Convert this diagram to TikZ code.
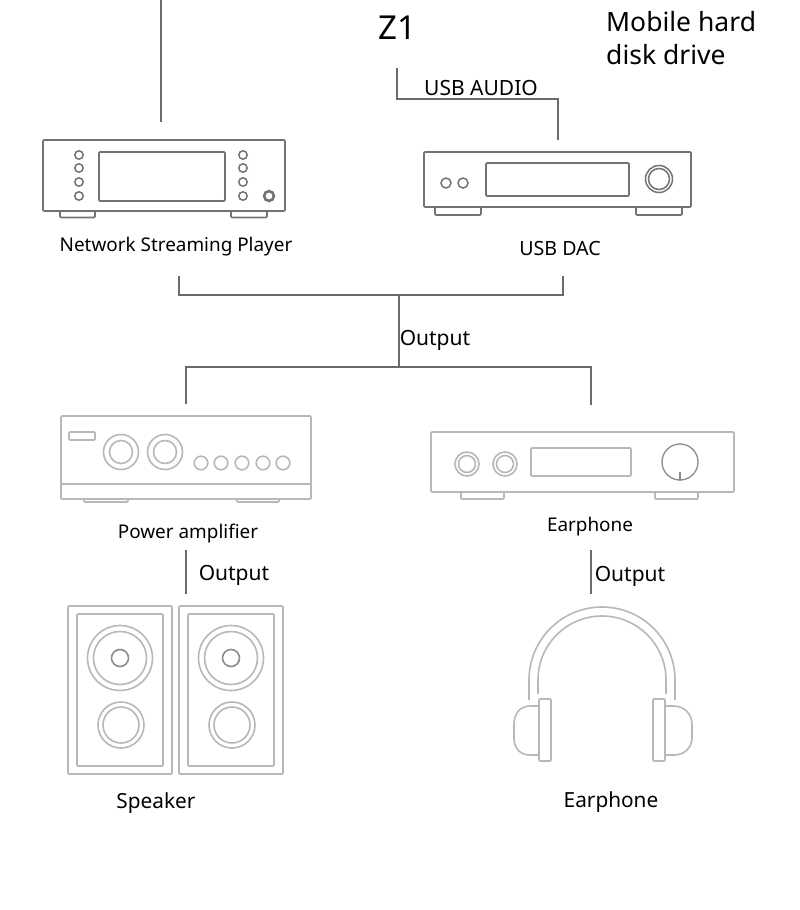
\documentclass[tikz,border=0pt]{standalone}
\usepackage{fontspec}
\setmainfont{Noto Sans}
\definecolor{wire}{gray}{0.42}
\definecolor{darkline}{gray}{0.45}
\definecolor{midline}{gray}{0.55}
\definecolor{softline}{gray}{0.72}
\tikzset{
  x=1pt, y=-1pt,
  wirepath/.style={draw=wire, line width=1.8pt},
  label/.style={anchor=base, inner sep=0pt, font=\fontsize{18.9pt}{22pt}\selectfont, text=black},
  bigtext/.style={anchor=base west, inner sep=0pt, font=\fontsize{26.5pt}{30pt}\selectfont, text=black},
  outputlabel/.style={label, font=\fontsize{21pt}{24pt}\selectfont},
  caption/.style={label, font=\fontsize{20.8pt}{24pt}\selectfont},
  darkgear/.style={draw=darkline, line width=1.6pt, rounded corners=1pt},
  midgear/.style={draw=midline, line width=1.4pt, rounded corners=1pt},
  softgear/.style={draw=softline, line width=1.6pt, rounded corners=1pt},
}
\begin{document}
\begin{tikzpicture}
\useasboundingbox (0,0) rectangle (800,910);
\fill[white] (0,0) rectangle (800,910);

% Network streaming player
\draw[darkgear] (60,211) -- (60,217.5) -- (95,217.5) -- (95,211);
\draw[darkgear] (231,211) -- (231,217.5) -- (267,217.5) -- (267,211);
\draw[darkgear] (43,140) rectangle (285,211);
\draw[darkgear] (99,152) rectangle (225,201);
\foreach \cx in {79,243} \foreach \cy in {155,168,182,196}
  \draw[darkline, line width=1.5pt] (\cx,\cy) circle[radius=4.2];
\draw[darkline, line width=2.6pt] (269,196) circle[radius=4.9];

% USB DAC
\draw[darkgear] (435,207) -- (435,215) -- (481,215) -- (481,207);
\draw[darkgear] (636,207) -- (636,215) -- (682,215) -- (682,207);
\draw[darkgear] (424,152) rectangle (691,207);
\draw[darkgear] (486,163) rectangle (629,196);
\foreach \cx in {446,463}
  \draw[darkline, line width=1.5pt] (\cx,183) circle[radius=5];
\draw[darkline, line width=1.5pt] (659,179) circle[radius=13.5];
\draw[darkline, line width=1.5pt] (659,179) circle[radius=10.5];

% Power amplifier
\draw[softgear] (84,499) -- (84,502) -- (128,502) -- (128,499);
\draw[softgear] (237,499) -- (237,502) -- (279,502) -- (279,499);
\draw[softgear] (61,416) rectangle (311,499);
\draw[softgear, rounded corners=0pt] (61,484) -- (311,484);
\draw[softgear] (69,432) rectangle (95,440);
\foreach \cx in {121,165} {
  \draw[softline, line width=1.6pt] (\cx,452) circle[radius=17.5];
  \draw[softline, line width=1.6pt] (\cx,452) circle[radius=11.5];
}
\foreach \cx in {201,221,242,263,283}
  \draw[softline, line width=1.6pt] (\cx,463) circle[radius=6.8];

% Headphone amplifier
\draw[softgear] (461,492) -- (461,499) -- (504,499) -- (504,492);
\draw[softgear] (655,492) -- (655,499) -- (698,499) -- (698,492);
\draw[softgear] (431,432) rectangle (734,492);
\draw[softgear] (531,448) rectangle (631,476);
\foreach \cx in {467,505} {
  \draw[softline, line width=1.6pt] (\cx,464) circle[radius=12];
  \draw[softline, line width=1.6pt] (\cx,464) circle[radius=8.5];
}
\draw[midline, line width=1.3pt] (680,462) circle[radius=18];
\draw[midline, line width=1.3pt] (680,472) -- (680,481);

% Speaker pair
\foreach \ox/\ix/\ex/\wx/\tx in {68/77/172/120/121, 179/188/283/231/232} {
  \pgfmathsetmacro{\rx}{\ix+(\ex-\ox)-18}
  \draw[softgear] (\ox,606) rectangle (\ex,774);
  \draw[softgear] (\ix,614) rectangle (\rx,766);
  \draw[softline, line width=1.6pt] (\wx,658) circle[radius=32.5];
  \draw[softline, line width=1.6pt] (\wx,658) circle[radius=26.5];
  \draw[midline, line width=1.6pt] (\wx,658) circle[radius=8.5];
  \draw[softline, line width=1.6pt] (\tx,725) circle[radius=23];
  \draw[softline, line width=1.6pt] (\tx,725) circle[radius=18];
}

% Headphones
\draw[softgear, rounded corners=0pt] (529,700) -- (529,680) arc[start angle=180, end angle=0, x radius=73, y radius=-73] -- (675,700);
\draw[softgear, rounded corners=0pt] (538,694) -- (538,680) arc[start angle=180, end angle=0, x radius=64, y radius=-64] -- (666,694);
\draw[softgear] (539,699) rectangle (551,761);
\draw[softgear] (653,699) rectangle (665,761);
\draw[softgear, rounded corners=0pt] (539,706) -- (530,706) .. controls (520,706) and (514,714) .. (514,724) -- (514,738) .. controls (514,748) and (520,755) .. (530,755) -- (539,755);
\draw[softgear, rounded corners=0pt] (665,706) -- (674,706) .. controls (684,706) and (692,714) .. (692,724) -- (692,738) .. controls (692,748) and (684,755) .. (674,755) -- (665,755);

% Connector end points
\coordinate (feedTop) at (161,0);
\coordinate (feedEnd) at (161,122);
\coordinate (usbStart) at (397,68);
\coordinate (usbEnd) at (558,140);
\coordinate (srcLeft) at (179,276);
\coordinate (srcRight) at (563,276);
\coordinate (srcMid) at (399,295);
\coordinate (outMid) at (399,367);
\coordinate (outLeft) at (186,404);
\coordinate (outRight) at (591,405);
\coordinate (spkTop) at (186,550);
\coordinate (spkEnd) at (186,594);
\coordinate (hpTop) at (591,550);
\coordinate (hpEnd) at (591,594);

% Connectors
\draw[wirepath] (feedTop) -- (feedEnd);
\draw[wirepath] (usbStart) |- (usbEnd |- 0,99) -- (usbEnd);
\draw[wirepath] (srcLeft) |- (srcMid) -| (srcRight);
\draw[wirepath] (srcMid) -- (outMid);
\draw[wirepath] (outLeft) |- (outMid) -| (outRight);
\draw[wirepath] (spkTop) -- (spkEnd);
\draw[wirepath] (hpTop) -- (hpEnd);

% Labels
\node[anchor=base, inner sep=0pt, font=\fontsize{33pt}{36pt}\selectfont] (z1) at (397,39) {Z1};
\node[bigtext] (drive1) at (606,31) {Mobile hard};
\node[bigtext] (drive2) at (606,64) {disk drive};
\node[label, font=\fontsize{21pt}{24pt}\selectfont] (usbaudio) at (481,95) {USB AUDIO};
\node[label] (streamer) at (176,251) {Network Streaming Player};
\node[label, font=\fontsize{19.6pt}{24pt}\selectfont] (usbdac) at (560,255) {USB DAC};
\node[outputlabel] (out1) at (435,345) {Output};
\node[label] (poweramp) at (188,538) {Power amplifier};
\node[label] (headamp) at (590,531) {Earphone};
\node[outputlabel] (out2) at (234,580) {Output};
\node[outputlabel] (out3) at (630,581) {Output};
\node[caption] (speaker) at (156,808) {Speaker};
\node[caption] (phones) at (611,807) {Earphone};
\end{tikzpicture}
\end{document}
